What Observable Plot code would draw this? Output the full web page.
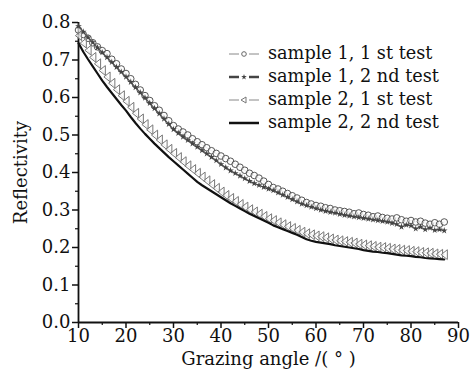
<!DOCTYPE html>
<html>
<head>
<meta charset="utf-8">
<script src="https://cdn.jsdelivr.net/npm/d3@7"></script>
<script src="https://cdn.jsdelivr.net/npm/@observablehq/plot@0.6"></script>
<style>
  html, body { margin: 0; padding: 0; background: #fff; }
  #wrap { position: relative; width: 470px; height: 374px; font-family: 'DejaVu Serif', serif; }
  #wrap svg text { font-family: 'DejaVu Serif', serif; }
  #legend { position: absolute; left: 228px; top: 42px; font-size: 17.7px; line-height: 23px; color: #111; }
  #legend div { display: flex; align-items: center; height: 23px; white-space: nowrap; }
  #legend svg { margin-right: 8px; }
</style>
</head>
<body>
<div id="wrap"><div id="legend"></div></div>
<script>
const angles = d3.range(10, 88);
const s1t1 = [.780,.768,.758,.746,.735,.725,.717,.702,.690,.676,.664,.650,.635,.620,.605,.592,.578,.566,.552,.538,.525,.516,.508,.500,.490,.482,.474,.466,.458,.451,.444,.437,.430,.422,.414,.406,.398,.392,.385,.377,.368,.360,.356,.350,.344,.338,.332,.326,.320,.316,.312,.310,.306,.304,.300,.298,.296,.294,.290,.292,.288,.286,.282,.284,.280,.278,.276,.279,.274,.270,.272,.268,.270,.265,.262,.266,.262,.268];
const s1t2 = [.790,.775,.760,.747,.733,.720,.707,.694,.681,.668,.655,.641,.627,.613,.599,.585,.571,.557,.543,.529,.515,.505,.495,.486,.477,.468,.459,.450,.441,.432,.422,.413,.405,.398,.391,.384,.377,.371,.366,.361,.356,.352,.346,.340,.334,.328,.322,.316,.312,.308,.304,.300,.297,.294,.292,.289,.286,.284,.282,.280,.278,.276,.274,.272,.270,.268,.265,.262,.255,.260,.258,.250,.255,.248,.252,.246,.248,.245];
const s2t1 = [.765,.745,.726,.707,.690,.672,.655,.638,.621,.605,.590,.574,.558,.543,.528,.514,.500,.487,.474,.462,.451,.440,.429,.418,.408,.398,.388,.378,.368,.358,.348,.339,.331,.323,.315,.308,.301,.295,.289,.283,.277,.272,.266,.261,.256,.251,.246,.241,.237,.234,.231,.229,.226,.223,.220,.218,.216,.214,.212,.209,.207,.205,.203,.201,.200,.198,.196,.195,.193,.192,.190,.189,.187,.186,.185,.183,.182,.181];
const s2t2 = [.745,.722,.702,.683,.664,.645,.628,.612,.596,.580,.565,.548,.532,.517,.503,.490,.477,.465,.453,.441,.430,.419,.408,.397,.386,.375,.366,.358,.350,.342,.334,.326,.318,.311,.304,.297,.290,.284,.278,.272,.266,.259,.254,.249,.244,.239,.234,.228,.222,.218,.215,.213,.211,.209,.206,.204,.202,.200,.198,.196,.193,.191,.189,.188,.186,.185,.183,.181,.179,.178,.177,.175,.174,.172,.171,.170,.169,.168];
const seriesNames = ["sample 1, 1 st test", "sample 1, 2 nd test", "sample 2, 1 st test", "sample 2, 2 nd test"];
const xTicks = [10, 20, 30, 40, 50, 60, 70, 80, 90];
const xMinor = [15, 25, 35, 45, 55, 65, 75, 85];
const yTicks = [0, 0.1, 0.2, 0.3, 0.4, 0.5, 0.6, 0.7, 0.8];
const yMinor = [0.05, 0.15, 0.25, 0.35, 0.45, 0.55, 0.65, 0.75];

const toRows = vals => angles.map((a, i) => ({a, r: vals[i]}));
const d1 = toRows(s1t1), d2 = toRows(s1t2), d3r = toRows(s2t1), d4 = toRows(s2t2);

const triLeft = {
  draw(ctx, size) {
    const s = Math.sqrt(size);
    const w = 0.38 * s, h = 0.6 * s;
    ctx.moveTo(-w, 0); ctx.lineTo(w, -h); ctx.lineTo(w, h); ctx.closePath();
  }
};

const chart = Plot.plot({
  width: 470, height: 374,
  marginLeft: 78, marginRight: 12, marginTop: 22, marginBottom: 52,
  style: {fontFamily: "'DejaVu Serif', serif", fontSize: "17px", color: "#111", background: "#fff"},
  x: {domain: [10, 90]},
  y: {domain: [0, 0.8]},
  marks: [
    Plot.axisX({ticks: xTicks, tickSize: 6, tickPadding: 1, tickFormat: d => String(d), fontSize: 18,
      label: "Grazing angle /( ° )", labelAnchor: "center", labelOffset: 42, labelArrow: "none", stroke: "#111", strokeWidth: 1.5}),
    Plot.axisX({ticks: xMinor, tickSize: 3, text: null, label: null, stroke: "#111", strokeWidth: 1.2}),
    Plot.axisY({ticks: yTicks, tickSize: 6, tickPadding: 2, tickFormat: d => d.toFixed(1), fontSize: 18,
      label: "Reflectivity", labelAnchor: "center", labelOffset: 64, labelArrow: "none", stroke: "#111", strokeWidth: 1.5}),
    Plot.axisY({ticks: yMinor, tickSize: 3, text: null, label: null, stroke: "#111", strokeWidth: 1.2}),
    Plot.ruleX([10], {stroke: "#111", strokeWidth: 1.8}),
    Plot.ruleY([0], {stroke: "#111", strokeWidth: 1.8}),
    Plot.line(d1, {x: "a", y: "r", stroke: "#bbb", strokeWidth: 0.7}),
    Plot.dot(d1, {x: "a", y: "r", r: 3.3, symbol: "circle", stroke: "#444", strokeWidth: 0.9, fill: "white", fillOpacity: 0.6}),
    Plot.line(d2, {x: "a", y: "r", stroke: "#555", strokeWidth: 1.3}),
    Plot.dot(d2, {x: "a", y: "r", r: 2.1, symbol: "star", fill: "#444", stroke: "none"}),
    Plot.line(d3r, {x: "a", y: "r", stroke: "#aaa", strokeWidth: 0.7}),
    Plot.dot(d3r, {x: "a", y: "r", r: 4.6, symbol: triLeft, stroke: "#777", strokeWidth: 1, fill: "white", fillOpacity: 0.6}),
    Plot.line(d4, {x: "a", y: "r", stroke: "#111", strokeWidth: 2.2})
  ]
});
document.getElementById("wrap").prepend(chart);

// legend
const legendStyles = [
  {stroke: "#888", sw: 1, sym: "circle"},
  {stroke: "#444", sw: 2.5, sym: "star"},
  {stroke: "#888", sw: 1, sym: "tri"},
  {stroke: "#111", sw: 2.5, sym: null}
];
const leg = document.getElementById("legend");
seriesNames.forEach((name, i) => {
  const st = legendStyles[i];
  const row = document.createElement("div");
  let symSvg = "";
  if (st.sym === "circle") symSvg = `<circle cx="16" cy="8" r="2.3" fill="white" stroke="#666" stroke-width="1"/>`;
  if (st.sym === "star") symSvg = `<path transform="translate(16,8)" d="${d3.symbol(d3.symbolStar, 10)()}" fill="#444"/>`;
  if (st.sym === "tri") symSvg = `<path d="M13,8 L18,5 L18,11 Z" fill="white" stroke="#777" stroke-width="1"/>`;
  const lines = st.sym
    ? `<line x1="1" x2="11" y1="8" y2="8" stroke="${st.stroke}" stroke-width="${st.sw}"/><line x1="21" x2="31" y1="8" y2="8" stroke="${st.stroke}" stroke-width="${st.sw}"/>`
    : `<line x1="1" x2="31" y1="8" y2="8" stroke="${st.stroke}" stroke-width="${st.sw}"/>`;
  row.innerHTML = `<svg width="32" height="16">${lines}${symSvg}</svg><span>${name}</span>`;
  leg.appendChild(row);
});
</script>
</body>
</html>
